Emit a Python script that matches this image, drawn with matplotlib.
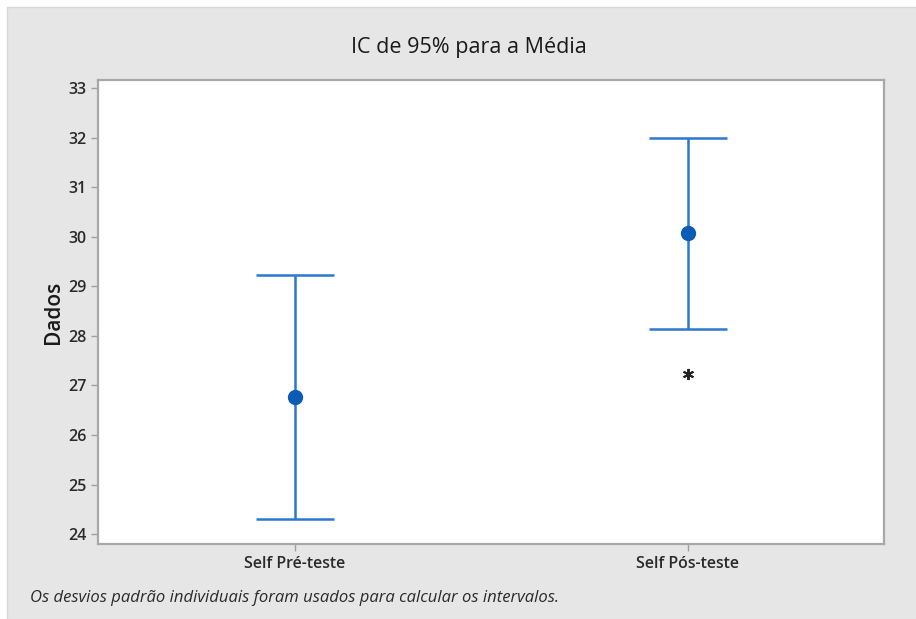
import matplotlib.pyplot as plt
from matplotlib.patches import Rectangle

plt.rcParams['font.family'] = ['Open Sans', 'DejaVu Sans']

# data
categories = ['Self Pré-teste', 'Self Pós-teste']
means = [26.76, 30.08]
lower = [24.31, 28.13]
upper = [29.22, 31.98]
outlier_x = [1]
outlier_y = [27.23]

fig = plt.figure(figsize=(9.16, 6.19), dpi=100)
fig.patch.set_facecolor('white')
# gray panel behind the chart
fig.patches.append(Rectangle((7 / 916, 0), 1, 1 - 7 / 619, transform=fig.transFigure,
                             facecolor='#e6e6e6', edgecolor='#d8d8d8', lw=1, zorder=-1))

ax = fig.add_axes([98 / 916, 1 - 544 / 619, (884 - 98) / 916, (544 - 80) / 619])
ax.set_facecolor('white')

x = list(range(len(categories)))
err_lo = [m - l for m, l in zip(means, lower)]
err_hi = [u - m for m, u in zip(means, upper)]
ax.errorbar(x, means, yerr=[err_lo, err_hi], fmt='o', color='#2a78cf',
            ecolor='#2a78cf', elinewidth=1.8, capsize=28, capthick=1.8,
            markersize=10, markerfacecolor='#0b5cb5', markeredgecolor='#0b5cb5')
ax.plot(outlier_x, outlier_y, marker=(6, 2, 0), color='#222222', markersize=8,
        markeredgewidth=1.4, linestyle='none')

ax.set_xlim(-0.5, 1.5)
ax.set_ylim(23.8, 33.16)
ax.set_yticks(range(24, 34))
ax.set_xticks(x)
ax.set_xticklabels(categories)

for s in ax.spines.values():
    s.set_color('#a8a8a8')
    s.set_linewidth(1.6)
ax.tick_params(axis='both', colors='#a0a0a0', length=5, width=1,
               labelcolor='#2a2a2a', labelsize=11.5)
for lbl in ax.get_yticklabels() + ax.get_xticklabels():
    lbl.set_fontweight('semibold')

ax.set_ylabel('Dados', fontsize=15, fontweight='semibold', color='#1a1a1a', labelpad=3)

fig.text(469 / 916, 1 - 48 / 619, 'IC de 95% para a Média', fontsize=15.5,
         color='#1a1a1a', ha='center', va='center')
fig.text(30 / 916, 1 - 598 / 619, 'Os desvios padrão individuais foram usados para calcular os intervalos.',
         fontsize=12, style='italic', color='#2a2a2a', va='center')

fig.savefig('out.png', dpi=100)
